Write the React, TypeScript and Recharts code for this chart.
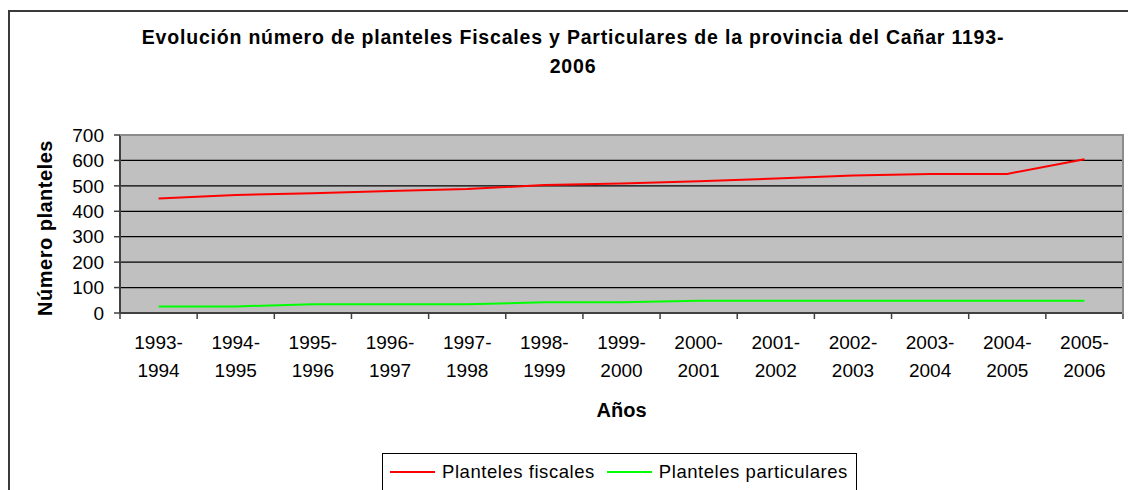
import React from 'react';
import { LineChart, Line, XAxis, YAxis, CartesianGrid, Legend, Label } from 'recharts';

const periods = [
  '1993-1994', '1994-1995', '1995-1996', '1996-1997', '1997-1998', '1998-1999', '1999-2000',
  '2000-2001', '2001-2002', '2002-2003', '2003-2004', '2004-2005', '2005-2006',
];
const fiscales = [450, 464, 471, 480, 488, 503, 509, 518, 529, 541, 547, 547, 605];
const particulares = [26, 26, 34, 34, 34, 42, 42, 48, 48, 48, 48, 48, 48];
const yTicks = [0, 100, 200, 300, 400, 500, 600, 700];

const data = periods.map((p, i) => ({ idx: i, period: p, fiscal: fiscales[i], particular: particulares[i] }));
const xTicks = periods.flatMap((_, i) => [i - 0.5, i]).concat([periods.length - 0.5]);

const FONT = '"Liberation Sans", Arial, sans-serif';

function XTick(props: any) {
  const { x, y, payload } = props;
  const v = Number(payload.value);
  if (Number.isInteger(v)) {
    const label = periods[v] || '';
    const [a, b] = label.split('-');
    return (
      <g>
        <text x={x} y={y + 36} textAnchor="middle" fontSize={19} fill="#000" fontFamily={FONT}>{a + '-'}</text>
        <text x={x} y={y + 63.5} textAnchor="middle" fontSize={19} fill="#000" fontFamily={FONT}>{b}</text>
      </g>
    );
  }
  return <line x1={x} y1={y} x2={x} y2={y + 6} stroke="#404040" strokeWidth={1.5} />;
}

const YLabel = (props: any) => {
  const vb = props.viewBox || { x: 20, y: 135, width: 100, height: 178 };
  const cx = vb.x + 25;
  const cy = vb.y + vb.height / 2 + 4;
  return (
    <text
      x={cx}
      y={cy}
      dy="0.36em"
      transform={`rotate(-90, ${cx}, ${cy})`}
      textAnchor="middle"
      fontSize={20}
      fontWeight="bold"
      fill="#000"
      fontFamily={FONT}
      style={{ letterSpacing: '0.5px' }}
    >
      Número planteles
    </text>
  );
};

const renderLegend = (props: any) => {
  const items = props.payload || [];
  return (
    <div
      style={{
        border: '1px solid #000',
        boxSizing: 'border-box',
        height: 50,
        paddingTop: 7.6,
        paddingLeft: 7,
        display: 'flex',
        alignItems: 'flex-start',
        fontFamily: FONT,
        fontSize: 18.5,
        lineHeight: '20px',
        letterSpacing: '0.55px',
        color: '#000',
        background: '#fff',
      }}
    >
      {items.map((e: any, i: number) => (
        <span key={i} style={{ display: 'flex', alignItems: 'center', marginRight: 12, whiteSpace: 'nowrap' }}>
          <span style={{ display: 'inline-block', width: 45, height: 2, background: e.color, marginRight: 7 }} />
          {e.value}
        </span>
      ))}
    </div>
  );
};

export default function App() {
  return (
    <div
      style={{
        position: 'absolute',
        left: 0,
        top: 0,
        width: 1128,
        height: 490,
        overflow: 'hidden',
        background: '#fff',
        fontFamily: FONT,
      }}
    >
      <div
        style={{
          position: 'absolute',
          left: 8,
          top: 10,
          width: 1200,
          height: 600,
          borderLeft: '2px solid #3a3a3a',
          borderTop: '2px solid #3a3a3a',
          boxSizing: 'border-box',
        }}
      />
      <div
        style={{
          position: 'absolute',
          left: 0,
          top: 23,
          width: 1146,
          textAlign: 'center',
          fontSize: 19.5,
          fontWeight: 'bold',
          lineHeight: '29px',
          letterSpacing: '0.8px',
          whiteSpace: 'nowrap',
          color: '#000',
        }}
      >
        Evolución número de planteles Fiscales y Particulares de la provincia del Cañar 1193-
        <br />
        2006
      </div>
      <div style={{ position: 'absolute', left: 0, top: 0 }}>
        <LineChart
          width={1128}
          height={490}
          data={data}
          margin={{ top: 135, right: 5, left: 20, bottom: 67 }}
          style={{ fontFamily: FONT }}
        >
          <CartesianGrid vertical={false} stroke="#000" strokeWidth={1.2} fill="#C0C0C0" fillOpacity={1} />
          <XAxis
            dataKey="idx"
            type="number"
            domain={[-0.5, periods.length - 0.5]}
            ticks={xTicks}
            interval={0}
            tickLine={false}
            tickSize={0}
            tickMargin={0}
            height={110}
            axisLine={{ stroke: '#404040', strokeWidth: 2 }}
            tick={<XTick />}
            allowDecimals
          >
            <Label value="Años" position="insideBottom" offset={6} style={{ fontSize: 20, fontWeight: 'bold', fill: '#000' }} />
          </XAxis>
          <YAxis
            type="number"
            domain={[0, 700]}
            ticks={yTicks}
            interval={0}
            width={100}
            tickSize={6}
            tickMargin={10}
            tickLine={{ stroke: '#404040', strokeWidth: 1.5 }}
            axisLine={{ stroke: '#404040', strokeWidth: 2 }}
            tick={{ fontSize: 19, fill: '#000' }}
          >
            <Label content={<YLabel />} position="insideLeft" />
          </YAxis>
          <Legend
            verticalAlign="middle"
            align="center"
            layout="horizontal"
            content={renderLegend}
            wrapperStyle={{ left: 382, top: 453, width: 475, height: 50 }}
          />
          <Line
            type="linear"
            dataKey="fiscal"
            name="Planteles fiscales"
            stroke="#FF0000"
            strokeWidth={2}
            dot={false}
            isAnimationActive={false}
          />
          <Line
            type="linear"
            dataKey="particular"
            name="Planteles particulares"
            stroke="#00FF00"
            strokeWidth={2}
            dot={false}
            isAnimationActive={false}
          />
        </LineChart>
      </div>
      <div
        style={{
          position: 'absolute',
          left: 120,
          top: 134,
          width: 1004,
          height: 180,
          borderTop: '2px solid #8c8c8c',
          borderRight: '2px solid #8c8c8c',
          boxSizing: 'border-box',
          pointerEvents: 'none',
        }}
      />
    </div>
  );
}
